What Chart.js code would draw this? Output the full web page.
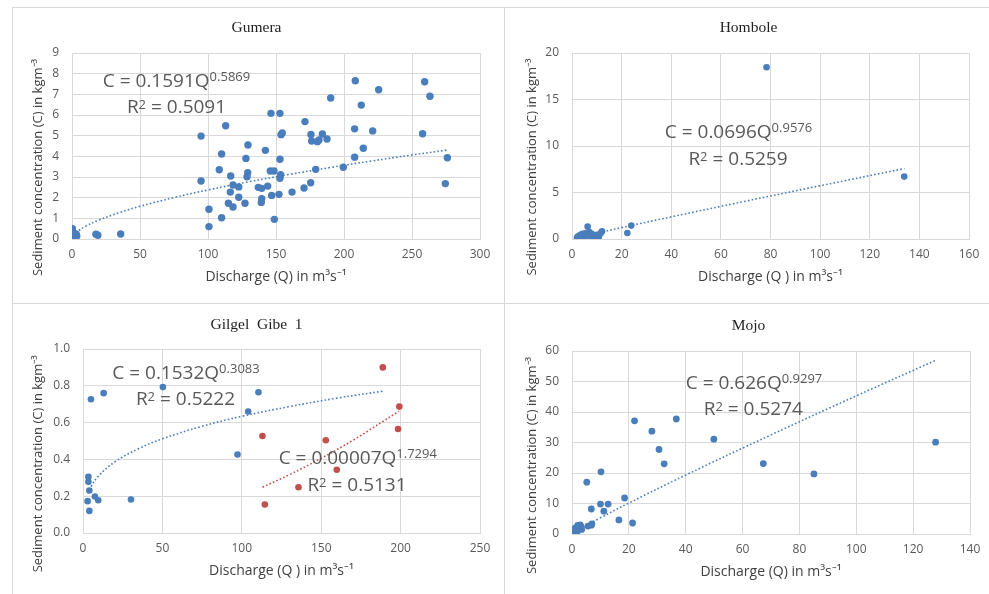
<!DOCTYPE html>
<html>
<head>
<meta charset="utf-8">
<script src="https://cdn.jsdelivr.net/npm/chart.js@4.4.1/dist/chart.umd.min.js"></script>
<style>
    body { margin: 0; background: #fff; width: 989px; height: 594px; overflow: hidden; position: relative; }
    .line { position: absolute; background: #d9d9d9; }
    canvas { position: absolute; display: block; }
</style>
</head>
<body>
<div class="line" style="left:12px;top:7px;width:977px;height:1px"></div>
<div class="line" style="left:12px;top:303px;width:977px;height:1px"></div>
<div class="line" style="left:12px;top:7px;width:1px;height:587px"></div>
<div class="line" style="left:504px;top:7px;width:1px;height:587px"></div>
<canvas id="gumera" width="492" height="296" style="left:12px;top:7px"></canvas>
<canvas id="hombole" width="485" height="296" style="left:504px;top:7px"></canvas>
<canvas id="gibe" width="492" height="291" style="left:12px;top:303px"></canvas>
<canvas id="mojo" width="485" height="291" style="left:504px;top:303px"></canvas>
<script>
// ---- data ----
const gumeraQ = [0.3, 0.5, 0.8, 1.2, 2.5, 3.5, 3.0, 17.6, 19.0, 35.8,
    94.9, 94.9, 100.7, 100.7, 110.0, 110.0, 113.0, 108.3, 116.7, 116.4,
    115.0, 118.4, 118.4, 122.6, 122.6, 127.2, 127.9, 129.4, 129.2, 128.7,
    137.0, 139.5, 139.5, 139.2, 142.2, 143.9, 145.8, 146.3, 148.5, 146.8,
    148.8, 152.2, 152.9, 152.9, 153.7, 154.6, 153.4, 152.9, 161.8, 170.6,
    171.3, 175.5, 175.7, 176.2, 179.2, 180.4, 181.6, 184.1, 187.5, 190.2,
    199.5, 207.8, 207.8, 208.3, 212.7, 214.2, 221.1, 225.5, 257.8, 259.3,
    263.2, 274.5, 276.0];
const gumeraC = [0.5, 0.35, 0.2, 0.1, 0.15, 0.15, 0.25, 0.23, 0.18, 0.24,
    4.98, 2.81, 1.44, 0.6, 4.11, 1.03, 5.48, 3.35, 3.05, 2.27,
    1.73, 2.61, 1.55, 2.52, 2.02, 1.73, 3.9, 4.55, 3.21, 3.01,
    2.5, 2.45, 1.95, 1.77, 4.29, 2.56, 3.29, 6.08, 3.29, 2.11,
    0.95, 2.16, 6.08, 3.86, 5.05, 5.13, 3.11, 2.94, 2.27, 2.47,
    5.68, 2.72, 5.06, 4.74, 3.37, 4.71, 4.79, 5.08, 4.84, 6.82,
    3.47, 5.33, 3.96, 7.66, 6.48, 4.39, 5.23, 7.22, 5.09, 7.61,
    6.91, 2.68, 3.93];
const gumeraTrendQ = [1, 2, 5, 10, 20, 35, 50, 75, 100, 130, 160, 190, 220, 250, 276];
const gumeraTrendC = [0.159, 0.239, 0.409, 0.615, 0.923, 1.282, 1.581, 2.005, 2.374, 2.769, 3.128, 3.46, 3.771, 4.065, 4.307];
const gumeraXTicks = [0, 50, 100, 150, 200, 250, 300];
const gumeraYTicks = [0, 1, 2, 3, 4, 5, 6, 7, 8, 9];

const homboleQ = [2.0, 2.4, 3.0, 3.4, 3.8, 4.2, 4.6, 5.0, 5.3, 5.8, 6.3, 6.6, 7.0,
    7.4, 8.0, 8.6, 9.2, 10.0, 10.8, 11.5, 12.1, 22.3, 23.9, 78.4, 133.9];
const homboleC = [0.12, 0.3, 0.18, 0.45, 0.25, 0.55, 0.35, 0.15, 0.6, 0.4, 1.33, 0.5, 0.75,
    0.3, 0.55, 0.2, 0.35, 0.45, 0.22, 0.6, 0.83, 0.65, 1.44, 18.46, 6.71];
const homboleTrendQ = [2, 5, 10, 20, 40, 70, 100, 134];
const homboleTrendC = [0.135, 0.325, 0.631, 1.226, 2.381, 4.069, 5.726, 7.577];
const homboleXTicks = [0, 20, 40, 60, 80, 100, 120, 140, 160];
const homboleYTicks = [0, 5, 10, 15, 20];

const gibeBlueQ = [5.0, 13.0, 50.3, 110.5, 104.0, 97.3, 30.2, 3.4, 3.4, 4.0, 2.9, 4.0, 7.5, 9.6];
const gibeBlueC = [0.727, 0.76, 0.793, 0.765, 0.66, 0.427, 0.182, 0.305, 0.278, 0.231, 0.173, 0.12, 0.198, 0.178];
const gibeRedQ = [188.8, 199.2, 198.4, 113.0, 152.9, 159.8, 135.7, 114.5];
const gibeRedC = [0.9, 0.687, 0.565, 0.527, 0.504, 0.344, 0.249, 0.155];
const gibeBlueTrendQ = [3, 5, 10, 20, 35, 50, 75, 100, 130, 160, 189];
const gibeBlueTrendC = [0.215, 0.252, 0.312, 0.386, 0.458, 0.512, 0.58, 0.634, 0.687, 0.733, 0.771];
const gibeRedTrendQ = [113, 130, 150, 170, 199];
const gibeRedTrendC = [0.249, 0.317, 0.406, 0.504, 0.662];
const gibeXTicks = [0, 50, 100, 150, 200, 250];
const gibeYTicks = [0, 0.2, 0.4, 0.6, 0.8, 1.0];

const mojoQ = [0.3, 0.6, 1.0, 1.4, 1.8, 2.2, 2.6, 2.9, 3.2, 3.4, 2.0, 0.8, 1.2,
    5.6, 6.8, 7.0, 6.8, 10.0, 12.7, 11.2, 16.5, 18.5, 5.2, 10.2, 21.3,
    22.0, 28.1, 30.6, 32.4, 36.7, 49.9, 67.3, 85.1, 127.9];
const mojoC = [0.3, 0.8, 0.2, 1.2, 0.6, 1.6, 2.2, 3.0, 2.4, 1.5, 2.8, 1.6, 2.0,
    2.6, 2.9, 3.3, 8.2, 9.8, 9.8, 7.5, 4.6, 11.8, 17.0, 20.4, 3.6,
    37.1, 33.7, 27.7, 23.0, 37.7, 31.1, 23.1, 19.7, 30.1];
const mojoTrendQ = [0.5, 2, 5, 10, 20, 40, 70, 100, 128];
const mojoTrendC = [0.329, 1.193, 2.795, 5.324, 10.14, 19.32, 32.5, 45.29, 56.97];
const mojoXTicks = [0, 20, 40, 60, 80, 100, 120, 140];
const mojoYTicks = [0, 10, 20, 30, 40, 50, 60];

// ---- helpers ----
const BLUE = "#4a7dbb";
const RED = "#c0504d";
const SANS = "'Open Sans', 'Liberation Sans', sans-serif";
const Y_TITLE = "Sediment concentration (C) in kgm⁻³";

function pts(xs, ys) {
    return xs.map((x, i) => ({ x, y: ys[i] }));
}

function scatterSet(xs, ys, color, r) {
    return { data: pts(xs, ys), backgroundColor: color, borderWidth: 0, pointRadius: r, pointHoverRadius: r, showLine: false };
}

function trendSet(xs, ys, color) {
    return {
        data: pts(xs, ys), showLine: true, borderColor: color, borderWidth: 1.6,
        borderDash: [1.6, 2.2], pointRadius: 0, tension: 0.4, fill: false,
    };
}

// draws one line of text with superscript pieces, centred on cx
function drawRich(ctx, cx, base, parts) {
    let total = 0;
    parts.forEach(([t, size]) => {
        ctx.font = `${size}px ${SANS}`;
        total += ctx.measureText(t).width;
    });
    let x = cx - total / 2;
    parts.forEach(([t, size, rise]) => {
        ctx.font = `${size}px ${SANS}`;
        ctx.fillText(t, x, base - rise);
        x += ctx.measureText(t).width;
    });
}

// panel title, rotated y title (Excel centres it on the whole plot, not the grid) and equations
const panelText = {
    id: "panelText",
    afterDraw(chart, args, opts) {
        const ctx = chart.ctx;
        ctx.save();
        ctx.textBaseline = "alphabetic";
        ctx.textAlign = "center";
        ctx.fillStyle = "#1f1f1f";
        ctx.font = "15.5px 'Liberation Serif', serif";
        ctx.fillText(opts.title, opts.titleX, opts.titleY);

        ctx.save();
        ctx.translate(opts.yTitleX, opts.yTitleY);
        ctx.rotate(-Math.PI / 2);
        ctx.textBaseline = "middle";
        ctx.fillStyle = "#404040";
        ctx.font = `13px ${SANS}`;
        ctx.fillText(Y_TITLE, 0, 0);
        ctx.restore();

        ctx.textAlign = "left";
        ctx.fillStyle = "#595959";
        (opts.labels || []).forEach((l) => drawRich(ctx, l.cx, l.base, l.parts));
        ctx.restore();
    },
};

function makePanel(id, p) {
    return new Chart(document.getElementById(id), {
        type: "scatter",
        data: { datasets: p.datasets },
        plugins: [panelText],
        options: {
            responsive: false,
            animation: false,
            events: [],
            layout: { padding: { top: p.top, right: p.right, left: 0, bottom: 0 } },
            plugins: {
                legend: { display: false },
                tooltip: { enabled: false },
                panelText: {
                    title: p.title, titleX: 244.5, titleY: p.titleY,
                    yTitleX: p.yTitleX, yTitleY: p.yTitleY, labels: p.labels,
                },
            },
            scales: {
                x: {
                    type: "linear",
                    min: p.xTicks[0],
                    max: p.xTicks[p.xTicks.length - 1],
                    afterBuildTicks: (s) => { s.ticks = p.xTicks.map((v) => ({ value: v })); },
                    afterFit: (s) => { s.height = p.xAxisH; },
                    grid: { color: "#d9d9d9", drawTicks: false },
                    border: { color: "#d9d9d9" },
                    ticks: { padding: 8, autoSkip: false, maxRotation: 0, color: "#595959", font: { family: SANS, size: 12 } },
                    title: {
                        display: true, text: p.xTitle, color: "#404040",
                        font: { family: SANS, size: 14 }, padding: { top: 0, bottom: p.xTitlePad - 0.6 },
                    },
                },
                y: {
                    type: "linear",
                    min: p.yTicks[0],
                    max: p.yTicks[p.yTicks.length - 1],
                    afterBuildTicks: (s) => { s.ticks = p.yTicks.map((v) => ({ value: v })); },
                    afterFit: (s) => { s.width = p.yAxisW; },
                    grid: { color: "#d9d9d9", drawTicks: false },
                    border: { color: "#d9d9d9" },
                    ticks: {
                        padding: 13, autoSkip: false, color: "#595959", font: { family: SANS, size: 12 },
                        callback: (v) => (p.yDecimals ? v.toFixed(p.yDecimals) : v),
                    },
                    title: { display: false },
                },
            },
        },
    });
}

// equation pieces: [text, font size, rise]
function eq(main, sup) { return [[main, 19, 0], [sup, 13, 6]]; }
function r2(val) { return [["R", 19, 0], ["2", 13, 4], [" = " + val, 19, 0]]; }

makePanel("gumera", {
    title: "Gumera", titleY: 25, yTitleX: 26, yTitleY: 160.5,
    top: 46, right: 24, yAxisW: 60, xAxisH: 64, xTitlePad: 18,
    xTitle: "Discharge (Q) in m³s⁻¹",
    xTicks: gumeraXTicks, yTicks: gumeraYTicks,
    datasets: [trendSet(gumeraTrendQ, gumeraTrendC, BLUE), scatterSet(gumeraQ, gumeraC, BLUE, 3.7)],
    labels: [
        { cx: 164.5, base: 80, parts: eq("C = 0.1591Q", "0.5869") },
        { cx: 164.5, base: 105.5, parts: r2("0.5091") },
    ],
});

makePanel("hombole", {
    title: "Hombole", titleY: 25, yTitleX: 28, yTitleY: 160,
    top: 46, right: 20, yAxisW: 68, xAxisH: 64, xTitlePad: 18,
    xTitle: "Discharge (Q ) in m³s⁻¹",
    xTicks: homboleXTicks, yTicks: homboleYTicks,
    datasets: [trendSet(homboleTrendQ, homboleTrendC, BLUE), scatterSet(homboleQ, homboleC, BLUE, 3.3)],
    labels: [
        { cx: 234.5, base: 131, parts: eq("C = 0.0696Q", "0.9576") },
        { cx: 234, base: 158, parts: r2("0.5259") },
    ],
});

makePanel("gibe", {
    title: "Gilgel  Gibe  1", titleY: 26, yTitleX: 26, yTitleY: 160.8,
    top: 46, right: 24, yAxisW: 71, xAxisH: 61, xTitlePad: 15, yDecimals: 1,
    xTitle: "Discharge (Q ) in m³s⁻¹",
    xTicks: gibeXTicks, yTicks: gibeYTicks,
    datasets: [
        trendSet(gibeBlueTrendQ, gibeBlueTrendC, BLUE),
        trendSet(gibeRedTrendQ, gibeRedTrendC, RED),
        scatterSet(gibeBlueQ, gibeBlueC, BLUE, 3.3),
        scatterSet(gibeRedQ, gibeRedC, RED, 3.3),
    ],
    labels: [
        { cx: 174, base: 75.5, parts: eq("C = 0.1532Q", "0.3083") },
        { cx: 173.5, base: 102, parts: r2("0.5222") },
        { cx: 345.8, base: 161.3, parts: eq("C = 0.00007Q", "1.7294") },
        { cx: 345, base: 187.7, parts: r2("0.5131") },
    ],
});

makePanel("mojo", {
    title: "Mojo", titleY: 27, yTitleX: 28, yTitleY: 162.5,
    top: 48, right: 19, yAxisW: 68, xAxisH: 60, xTitlePad: 14.5,
    xTitle: "Discharge (Q) in m³s⁻¹",
    xTicks: mojoXTicks, yTicks: mojoYTicks,
    datasets: [trendSet(mojoTrendQ, mojoTrendC, BLUE), scatterSet(mojoQ, mojoC, BLUE, 3.4)],
    labels: [
        { cx: 250, base: 86.3, parts: eq("C = 0.626Q", "0.9297") },
        { cx: 249.3, base: 112, parts: r2("0.5274") },
    ],
});
</script>
</body>
</html>
